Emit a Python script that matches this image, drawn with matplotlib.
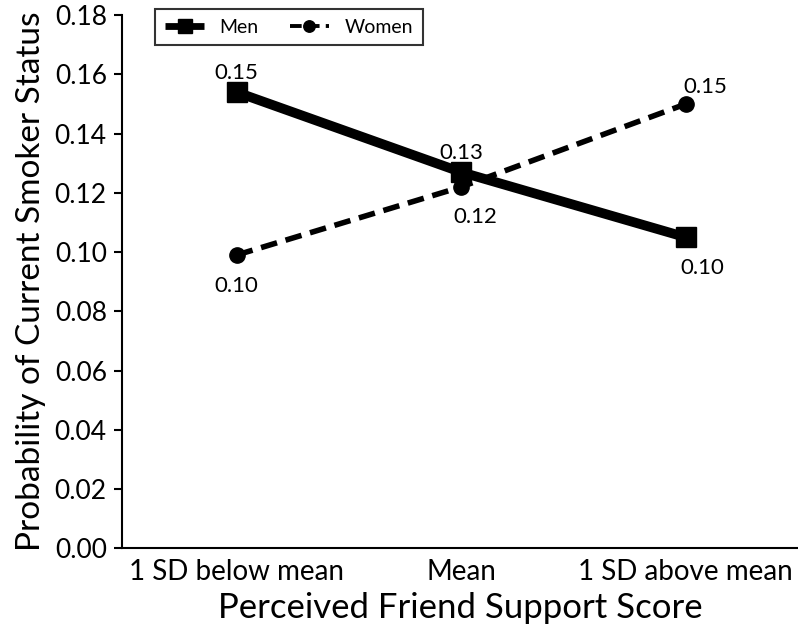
import matplotlib.pyplot as plt
import numpy as np

plt.rcParams['font.family'] = ['Lato', 'DejaVu Sans']

# data
categories = ['1 SD below mean', 'Mean', '1 SD above mean']
men = [0.154, 0.127, 0.105]
women = [0.099, 0.122, 0.150]
men_labels = ['0.15', '0.13', '0.10']
women_labels = ['0.10', '0.12', '0.15']

fig = plt.figure(figsize=(7.98, 6.33), dpi=100)
ax = fig.add_axes([0.153, 0.134, 0.847, 0.842])

x = np.arange(len(categories))

ax.plot(x, men, color='black', linewidth=7, marker='s', markersize=14,
        solid_capstyle='butt', label='Men', zorder=3)
ax.plot(x, women, color='black', linewidth=4, linestyle=(0, (3, 1.6)),
        marker='o', markersize=11, label='Women', zorder=4)

# value labels
men_offsets = [(0, 14), (0, 14), (12, -22)]
women_offsets = [(0, -22), (10, -22), (14, 12)]
for i in range(len(categories)):
    ax.annotate(men_labels[i], (x[i], men[i]), textcoords='offset points',
                xytext=men_offsets[i], ha='center', va='center', fontsize=16)
    ax.annotate(women_labels[i], (x[i], women[i]), textcoords='offset points',
                xytext=women_offsets[i], ha='center', va='center', fontsize=16)

ax.set_xlim(-0.51, 2.5)
ax.set_ylim(0, 0.18)
ax.set_yticks(np.arange(0, 0.181, 0.02))
ax.set_yticklabels(['%.2f' % v for v in np.arange(0, 0.181, 0.02)])
ax.set_xticks(x)
ax.set_xticklabels(categories)

ax.spines['top'].set_visible(False)
ax.spines['right'].set_visible(False)
ax.spines['left'].set_linewidth(1.5)
ax.spines['bottom'].set_linewidth(1.5)
ax.tick_params(axis='y', direction='out', length=6, width=1.5, labelsize=19, pad=5)
ax.tick_params(axis='x', length=0, labelsize=20, pad=8)

ax.set_xlabel('Perceived Friend Support Score', fontsize=25, labelpad=5)
ax.set_ylabel('Probability of Current Smoker Status', fontsize=24, labelpad=6)

leg = ax.legend(loc='upper left', bbox_to_anchor=(0.035, 1.03), ncol=2,
                frameon=True, fancybox=False, edgecolor='black', fontsize=14,
                handlelength=2.0, markerscale=0.75, borderpad=0.5,
                columnspacing=1.6)
leg.get_frame().set_linewidth(1.5)
for line in leg.get_lines():
    line.set_linewidth(line.get_linewidth() * 0.7)

plt.savefig('out.png', dpi=100)
plt.close()
